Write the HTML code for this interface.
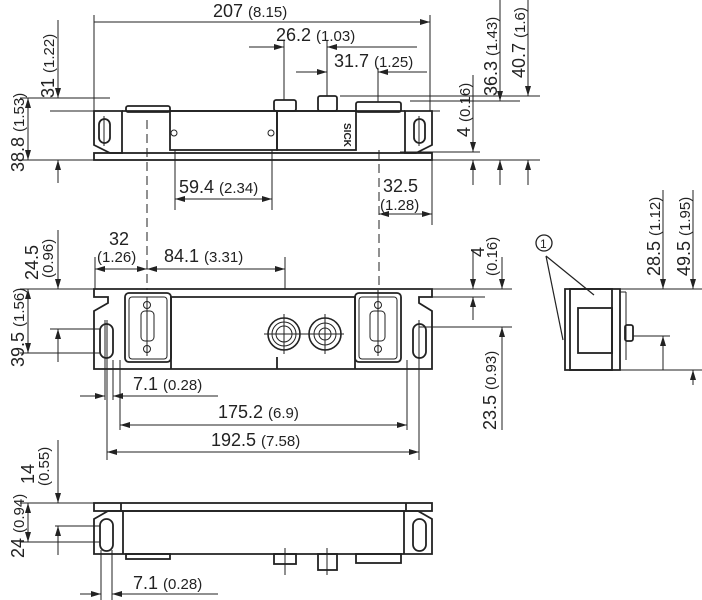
<!DOCTYPE html>
<html><head><meta charset="utf-8"><style>
html,body{margin:0;padding:0;background:#fff;width:702px;height:600px;overflow:hidden}
svg{display:block}
text{font-family:"Liberation Sans",sans-serif;fill:#222}
.b{font-size:18px}.s{font-size:15px}
</style></head><body>
<svg width="702" height="600" viewBox="0 0 702 600" xmlns="http://www.w3.org/2000/svg">
<defs>
<marker id="a" viewBox="0 0 10 6" refX="10" refY="3" markerWidth="10" markerHeight="6" orient="auto-start-reverse" markerUnits="userSpaceOnUse"><path d="M0,0L10,3L0,6z" fill="#222"/></marker>
</defs>
<g stroke="#222" stroke-width="1" fill="none">
<g stroke-width="1.8">
<rect x="94" y="153" width="338" height="7"/>
<path d="M94,111 L122,111 L122,153 L110,153 L94,145 Z"/>
<path d="M432,111 L405,111 L405,153 L416,153 L432,145 Z"/>
<rect x="170" y="111" width="107" height="39"/>
<rect x="277" y="111" width="79" height="39"/>
<line x1="122" y1="111" x2="405" y2="111"/>
<rect x="126" y="106" width="44" height="6" rx="2"/>
<rect x="356" y="102" width="45" height="10" rx="2"/>
<rect x="274" y="100" width="22" height="11" rx="2"/>
<rect x="318" y="96" width="19" height="15" rx="2"/>
<rect x="99" y="119" width="11" height="24" rx="5.5"/>
<rect x="414" y="119" width="11" height="24" rx="5.5"/>
</g>
<circle cx="174" cy="133" r="3"/><circle cx="271" cy="133" r="3"/>
<line x1="104" y1="116" x2="104" y2="146"/><line x1="419" y1="116" x2="419" y2="146"/>
<line x1="147" y1="120" x2="147" y2="290" stroke-dasharray="9,5"/>
<line x1="379" y1="150" x2="379" y2="290" stroke-dasharray="9,5"/>
<line x1="94" y1="22" x2="430" y2="22" marker-end="url(#a)"/>
<line x1="94" y1="15" x2="94" y2="111"/>
<line x1="430" y1="15" x2="430" y2="111"/>
<line x1="249" y1="47" x2="284" y2="47" marker-end="url(#a)"/>
<line x1="417" y1="47" x2="327" y2="47" marker-end="url(#a)"/>
<line x1="284" y1="40" x2="284" y2="100"/>
<line x1="327" y1="40" x2="327" y2="96"/>
<line x1="296" y1="72" x2="327" y2="72" marker-end="url(#a)"/>
<line x1="427" y1="72" x2="378" y2="72" marker-end="url(#a)"/>
<line x1="378" y1="68" x2="378" y2="102"/>
<line x1="340" y1="96" x2="540" y2="96"/>
<line x1="410" y1="101" x2="520" y2="101"/>
<line x1="400" y1="111" x2="440" y2="111"/>
<line x1="400" y1="152" x2="480" y2="152"/>
<line x1="432" y1="160" x2="540" y2="160"/>
<line x1="473" y1="75" x2="473" y2="152" marker-end="url(#a)"/>
<line x1="473" y1="185" x2="473" y2="160" marker-end="url(#a)"/>
<line x1="500" y1="0" x2="500" y2="101" marker-end="url(#a)"/>
<line x1="500" y1="185" x2="500" y2="160" marker-end="url(#a)"/>
<line x1="528" y1="0" x2="528" y2="96" marker-end="url(#a)"/>
<line x1="528" y1="185" x2="528" y2="160" marker-end="url(#a)"/>
<line x1="20" y1="98" x2="110" y2="98"/>
<line x1="50" y1="111" x2="94" y2="111"/>
<line x1="20" y1="160" x2="94" y2="160"/>
<line x1="58" y1="20" x2="58" y2="98" marker-end="url(#a)"/>
<line x1="58" y1="183" x2="58" y2="160" marker-end="url(#a)"/>
<line x1="28" y1="129" x2="28" y2="98" marker-end="url(#a)"/>
<line x1="28" y1="129" x2="28" y2="160" marker-end="url(#a)"/>
<line x1="175" y1="150" x2="175" y2="210"/>
<line x1="272" y1="150" x2="272" y2="210"/>
<line x1="224" y1="199" x2="175" y2="199" marker-end="url(#a)"/>
<line x1="224" y1="199" x2="272" y2="199" marker-end="url(#a)"/>
<line x1="432" y1="160" x2="432" y2="225"/>
<line x1="405" y1="214" x2="379" y2="214" marker-end="url(#a)"/>
<line x1="405" y1="214" x2="432" y2="214" marker-end="url(#a)"/>
<g stroke-width="1.8">
<path d="M94,289 L432,289 L432,297 L419,297 L419,303 L432,311 L432,369 L94,369 L94,311 L108,303 L108,297 L94,297 Z"/>
<line x1="170" y1="297" x2="356" y2="297"/>
<rect x="125" y="293" width="46" height="69" rx="4"/>
<rect x="355" y="293" width="46" height="69" rx="4"/>
<line x1="171" y1="297" x2="171" y2="369"/><line x1="355" y1="297" x2="355" y2="369"/>
<rect x="100" y="324" width="13" height="34" rx="6.5"/>
<rect x="413" y="324" width="13" height="34" rx="6.5"/>
<line x1="277" y1="357" x2="277" y2="369"/>
</g>
<rect x="129" y="297" width="38" height="62" rx="3"/>
<rect x="359" y="297" width="38" height="62" rx="3"/>
<rect x="141" y="311" width="13" height="30" rx="4"/>
<rect x="370" y="311" width="15" height="30" rx="4"/>
<circle cx="147" cy="305" r="3.5"/><circle cx="147" cy="349" r="3.5"/>
<circle cx="378" cy="305" r="3.5"/><circle cx="378" cy="349" r="3.5"/>
<line x1="147" y1="297" x2="147" y2="356"/><line x1="378" y1="290" x2="378" y2="356"/>
<circle cx="284" cy="334" r="16" stroke-width="1.6"/><circle cx="284" cy="334" r="12"/><circle cx="284" cy="334" r="8"/>
<circle cx="325" cy="334" r="16" stroke-width="1.6"/><circle cx="325" cy="334" r="11"/><circle cx="325" cy="334" r="6"/>
<line x1="264" y1="334" x2="344" y2="334"/><line x1="284" y1="314" x2="284" y2="354"/><line x1="325" y1="314" x2="325" y2="354"/>
<line x1="105" y1="320" x2="105" y2="400"/><line x1="107" y1="320" x2="107" y2="460"/>
<line x1="419" y1="320" x2="419" y2="460"/><line x1="113" y1="360" x2="113" y2="400"/>
<line x1="120" y1="360" x2="120" y2="430"/><line x1="407" y1="360" x2="407" y2="430"/>
<line x1="95" y1="257" x2="95" y2="289"/><line x1="285" y1="257" x2="285" y2="289"/>
<line x1="120" y1="269" x2="95" y2="269" marker-end="url(#a)"/>
<line x1="120" y1="269" x2="147" y2="269" marker-end="url(#a)"/>
<line x1="210" y1="269" x2="147" y2="269" marker-end="url(#a)"/>
<line x1="210" y1="269" x2="285" y2="269" marker-end="url(#a)"/>
<line x1="80" y1="396" x2="105" y2="396" marker-end="url(#a)"/>
<line x1="218" y1="396" x2="113" y2="396" marker-end="url(#a)"/>
<line x1="260" y1="425" x2="120" y2="425" marker-end="url(#a)"/>
<line x1="260" y1="425" x2="407" y2="425" marker-end="url(#a)"/>
<line x1="260" y1="452" x2="107" y2="452" marker-end="url(#a)"/>
<line x1="260" y1="452" x2="419" y2="452" marker-end="url(#a)"/>
<line x1="20" y1="289" x2="94" y2="289"/>
<line x1="50" y1="329" x2="100" y2="329"/>
<line x1="20" y1="353" x2="100" y2="353"/>
<line x1="58" y1="230" x2="58" y2="289" marker-end="url(#a)"/>
<line x1="58" y1="362" x2="58" y2="329" marker-end="url(#a)"/>
<line x1="28" y1="320" x2="28" y2="289" marker-end="url(#a)"/>
<line x1="28" y1="320" x2="28" y2="353" marker-end="url(#a)"/>
<line x1="432" y1="289" x2="512" y2="289"/>
<line x1="432" y1="297" x2="485" y2="297"/>
<line x1="419" y1="327" x2="512" y2="327"/>
<line x1="473" y1="250" x2="473" y2="289" marker-end="url(#a)"/>
<line x1="473" y1="320" x2="473" y2="297" marker-end="url(#a)"/>
<line x1="502" y1="257" x2="502" y2="289" marker-end="url(#a)"/>
<line x1="502" y1="430" x2="502" y2="327" marker-end="url(#a)"/>
<g stroke-width="1.8">
<path d="M565,289 L620,289 L620,370 L575,370 L565,370 Z"/>
<rect x="570" y="289" width="42" height="81"/>
<rect x="578" y="308" width="34" height="45"/>
<rect x="625" y="325" width="8" height="16" rx="2"/>
</g>
<line x1="620" y1="292" x2="626" y2="292"/><line x1="626" y1="292" x2="626" y2="360"/>
<line x1="546" y1="256" x2="594" y2="295" stroke-width="1.2"/>
<line x1="546" y1="256" x2="563" y2="340" stroke-width="1.2"/>
<circle cx="544" cy="243" r="8" stroke-width="1.3"/>
<line x1="620" y1="289" x2="702" y2="289"/>
<line x1="633" y1="336" x2="670" y2="336"/>
<line x1="620" y1="370" x2="702" y2="370"/>
<line x1="663" y1="190" x2="663" y2="289" marker-end="url(#a)"/>
<line x1="663" y1="370" x2="663" y2="336" marker-end="url(#a)"/>
<line x1="693" y1="190" x2="693" y2="289" marker-end="url(#a)"/>
<line x1="693" y1="385" x2="693" y2="370" marker-end="url(#a)"/>
<g stroke-width="1.8">
<rect x="94" y="503" width="338" height="8"/>
<path d="M94,554 L432,554 L432,519 L418,511 L108,511 L94,519 Z"/>
<line x1="123" y1="511" x2="123" y2="554"/><line x1="404" y1="511" x2="404" y2="554"/>
<line x1="121" y1="503" x2="121" y2="511"/><line x1="406" y1="503" x2="406" y2="511"/>
<rect x="100" y="519" width="13" height="32" rx="6.5"/>
<rect x="413" y="519" width="13" height="32" rx="6.5"/>
<rect x="126" y="554" width="44" height="5"/>
<rect x="356" y="554" width="45" height="9"/>
<rect x="274" y="554" width="22" height="10"/>
<rect x="318" y="554" width="19" height="16"/>
</g>
<line x1="285" y1="548" x2="285" y2="575"/><line x1="327" y1="548" x2="327" y2="575"/>
<line x1="101" y1="550" x2="101" y2="600"/><line x1="112" y1="550" x2="112" y2="600"/>
<line x1="80" y1="594" x2="101" y2="594" marker-end="url(#a)"/>
<line x1="218" y1="594" x2="112" y2="594" marker-end="url(#a)"/>
<line x1="20" y1="503" x2="94" y2="503"/>
<line x1="55" y1="526" x2="100" y2="526"/>
<line x1="20" y1="542" x2="100" y2="542"/>
<line x1="58" y1="440" x2="58" y2="503" marker-end="url(#a)"/>
<line x1="58" y1="555" x2="58" y2="526" marker-end="url(#a)"/>
<line x1="28" y1="522" x2="28" y2="503" marker-end="url(#a)"/>
<line x1="28" y1="522" x2="28" y2="542" marker-end="url(#a)"/>
</g>
<text x="213" y="17" class="b">207 <tspan class="s">(8.15)</tspan></text>
<text x="276" y="41" class="b">26.2 <tspan class="s">(1.03)</tspan></text>
<text x="334" y="67" class="b">31.7 <tspan class="s">(1.25)</tspan></text>
<text x="179" y="193" class="b">59.4 <tspan class="s">(2.34)</tspan></text>
<text x="383" y="192" class="b">32.5</text>
<text x="380" y="210" class="s">(1.28)</text>
<text x="109" y="245" class="b">32</text>
<text x="97" y="262" class="s">(1.26)</text>
<text x="164" y="262" class="b">84.1 <tspan class="s">(3.31)</tspan></text>
<text x="133" y="390" class="b">7.1 <tspan class="s">(0.28)</tspan></text>
<text x="218" y="418" class="b">175.2 <tspan class="s">(6.9)</tspan></text>
<text x="211" y="446" class="b">192.5 <tspan class="s">(7.58)</tspan></text>
<text x="133" y="589" class="b">7.1 <tspan class="s">(0.28)</tspan></text>
<text x="540" y="248" style="font-size:12px">1</text>
<g class="b">
<text transform="translate(54,98) rotate(-90)">31 <tspan class="s">(1.22)</tspan></text>
<text transform="translate(24,172) rotate(-90)">38.8 <tspan class="s">(1.53)</tspan></text>
<text transform="translate(470,137) rotate(-90)">4 <tspan class="s">(0.16)</tspan></text>
<text transform="translate(497,96) rotate(-90)">36.3 <tspan class="s">(1.43)</tspan></text>
<text transform="translate(525,78) rotate(-90)">40.7 <tspan class="s">(1.6)</tspan></text>
<text transform="translate(38,280) rotate(-90)">24.5</text>
<text transform="translate(53,278) rotate(-90)" class="s">(0.96)</text>
<text transform="translate(24,367) rotate(-90)">39.5 <tspan class="s">(1.56)</tspan></text>
<text transform="translate(484,257) rotate(-90)">4</text>
<text transform="translate(497,276) rotate(-90)" class="s">(0.16)</text>
<text transform="translate(496,430) rotate(-90)">23.5 <tspan class="s">(0.93)</tspan></text>
<text transform="translate(660,276) rotate(-90)">28.5 <tspan class="s">(1.12)</tspan></text>
<text transform="translate(690,276) rotate(-90)">49.5 <tspan class="s">(1.95)</tspan></text>
<text transform="translate(34,484) rotate(-90)">14</text>
<text transform="translate(49,486) rotate(-90)" class="s">(0.55)</text>
<text transform="translate(24,558) rotate(-90)">24 <tspan class="s">(0.94)</tspan></text>
</g>
<text transform="translate(344,123) rotate(90)" style="font-size:10px;font-weight:bold">SICK</text>
</svg>
</body></html>
